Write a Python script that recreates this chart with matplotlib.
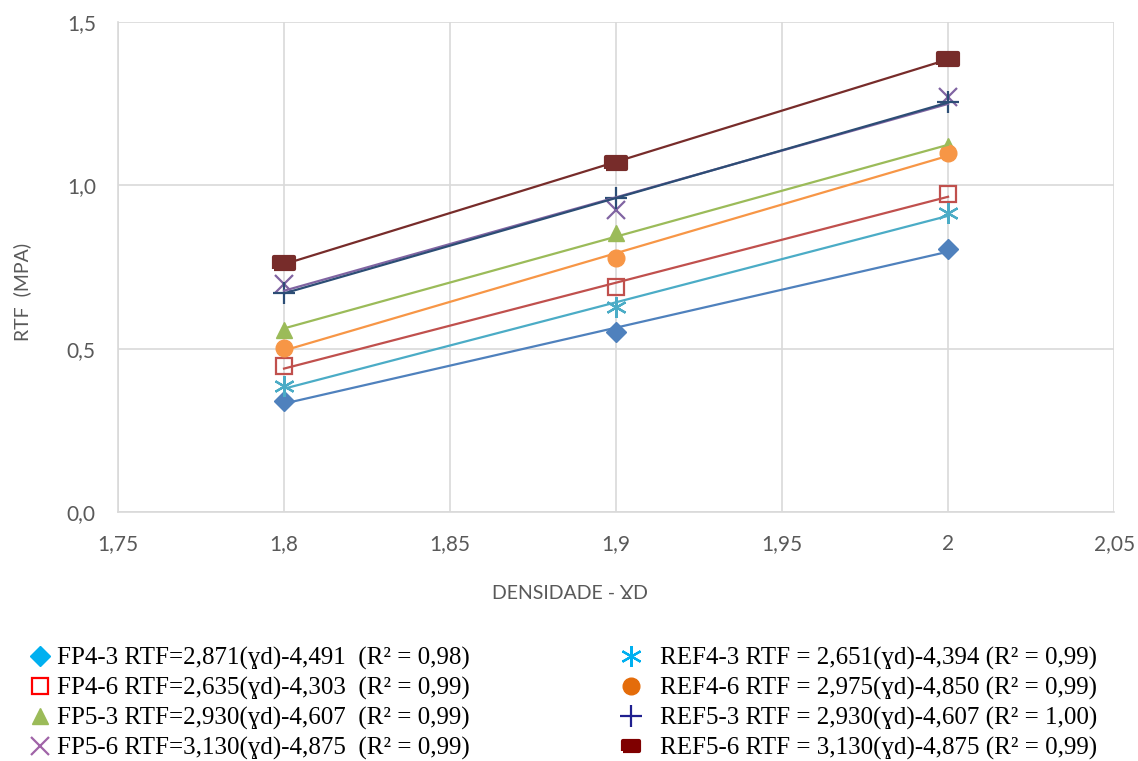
import numpy as np
import matplotlib.pyplot as plt
from matplotlib.lines import Line2D

# densidade (x) e RTF (y)
dens = [1.8, 1.9, 2.0]

fp4_3 = [0.339, 0.550, 0.804]
fp4_6 = [0.446, 0.688, 0.972]
fp5_3 = [0.557, 0.853, 1.119]
fp5_6 = [0.697, 0.924, 1.269]
ref4_3 = [0.385, 0.627, 0.914]
ref4_6 = [0.502, 0.777, 1.098]
ref5_3 = [0.670, 0.960, 1.254]
ref5_6 = [0.761, 1.067, 1.388]

labels = [
    "FP4-3 RTF=2,871(ɣd)-4,491  (R² = 0,98)",
    "FP4-6 RTF=2,635(ɣd)-4,303  (R² = 0,99)",
    "FP5-3 RTF=2,930(ɣd)-4,607  (R² = 0,99)",
    "FP5-6 RTF=3,130(ɣd)-4,875  (R² = 0,99)",
    "REF4-3 RTF = 2,651(ɣd)-4,394 (R² = 0,99)",
    "REF4-6 RTF = 2,975(ɣd)-4,850 (R² = 0,99)",
    "REF5-3 RTF = 2,930(ɣd)-4,607 (R² = 1,00)",
    "REF5-6 RTF = 3,130(ɣd)-4,875 (R² = 0,99)",
]

xticks = [1.75, 1.8, 1.85, 1.9, 1.95, 2.0, 2.05]
xticklabels = ["1,75", "1,8", "1,85", "1,9", "1,95", "2", "2,05"]
yticks = [0.0, 0.5, 1.0, 1.5]
yticklabels = ["0,0", "0,5", "1,0", "1,5"]

rrect = [(-1.6, -1), (1.6, -1), (1.6, 1), (-1.6, 1), (-1.6, -1)]

series = [
    # dados, cor no grafico, marcador, tamanho, cheio?, cor na legenda
    (fp4_3, "#4F81BD", "D", 10, True, "#00B0F0"),
    (fp4_6, "#C0504D", "s", 12, False, "#FF0000"),
    (fp5_3, "#9BBB59", "^", 12, True, "#9BBB59"),
    (fp5_6, "#8064A2", "x", 13, False, "#A064A8"),
    (ref4_3, "#4BACC6", (6, 2, 0), 15, False, "#00B0F0"),
    (ref4_6, "#F79646", "o", 12, True, "#E46C0A"),
    (ref5_3, "#2C4D75", "+", 16, False, "#1F1F8F"),
    (ref5_6, "#772C2A", rrect, 14, True, "#7F0000"),
]

fig = plt.figure(figsize=(11.38, 7.61), dpi=100)
ax = fig.add_axes([0.1037, 0.3272, 0.8753, 0.6439])

xs = np.array(dens)
for vals, col, mk, ms, filled, _ in series:
    a, b = np.polyfit(xs, vals, 1)
    ax.plot(xs, a * xs + b, color=col, lw=1.6, zorder=3)
    if filled:
        ax.plot(xs, vals, ls="none", marker=mk, ms=ms, color=col,
                mec=col, mew=3 if mk is rrect else 1, zorder=2)
    else:
        ax.plot(xs, vals, ls="none", marker=mk, ms=ms, mfc="none",
                mec=col, mew=1.6, zorder=2)

ax.set_xlim(1.75, 2.05)
ax.set_ylim(0, 1.5)
ax.set_xticks(xticks)
ax.set_xticklabels(xticklabels)
ax.set_yticks(yticks)
ax.set_yticklabels(yticklabels)
ax.grid(True, color="#D9D9D9", lw=1.2)
ax.set_axisbelow(True)
for s in ["top", "right"]:
    ax.spines[s].set_visible(False)
for s in ["left", "bottom"]:
    ax.spines[s].set_color("#D9D9D9")
    ax.spines[s].set_linewidth(1.2)
ax.tick_params(length=0, labelsize=15, labelcolor="#595959")
ax.tick_params(axis="x", pad=16)
ax.tick_params(axis="y", pad=16)
for t in ax.get_xticklabels() + ax.get_yticklabels():
    t.set_family(["Lato", "DejaVu Sans"])

ax.set_xlabel("DENSIDADE - ƔD", fontsize=14, color="#595959",
              family=["Lato", "DejaVu Sans"])
ax.set_ylabel("RTF  (MPA)", fontsize=14, color="#595959",
              family=["Lato", "DejaVu Sans"])
ax.xaxis.set_label_coords(0.454, -0.149)
ax.yaxis.set_label_coords(-0.087, 0.449)

handles = []
for vals, col, mk, ms, filled, lcol in series:
    if mk is rrect:
        ms = 11
    if filled:
        h = Line2D([], [], ls="none", marker=mk, ms=ms, color=lcol, mec=lcol,
                   mew=3 if mk is rrect else 1)
    else:
        h = Line2D([], [], ls="none", marker=mk, ms=ms, mfc="none", mec=lcol, mew=1.6)
    handles.append(h)

font = {"family": ["Liberation Serif", "DejaVu Serif"], "size": 18}
fig.legend(handles[:4], labels[:4], loc="upper left", bbox_to_anchor=(0.015, 0.163),
           frameon=False, prop=font, labelspacing=0.28, handletextpad=0.2,
           borderaxespad=0, handlelength=1.0)
fig.legend(handles[4:], labels[4:], loc="upper left", bbox_to_anchor=(0.5345, 0.163),
           frameon=False, prop=font, labelspacing=0.28, handletextpad=0.65,
           borderaxespad=0, handlelength=1.0)

fig.savefig("out.png", dpi=100)
